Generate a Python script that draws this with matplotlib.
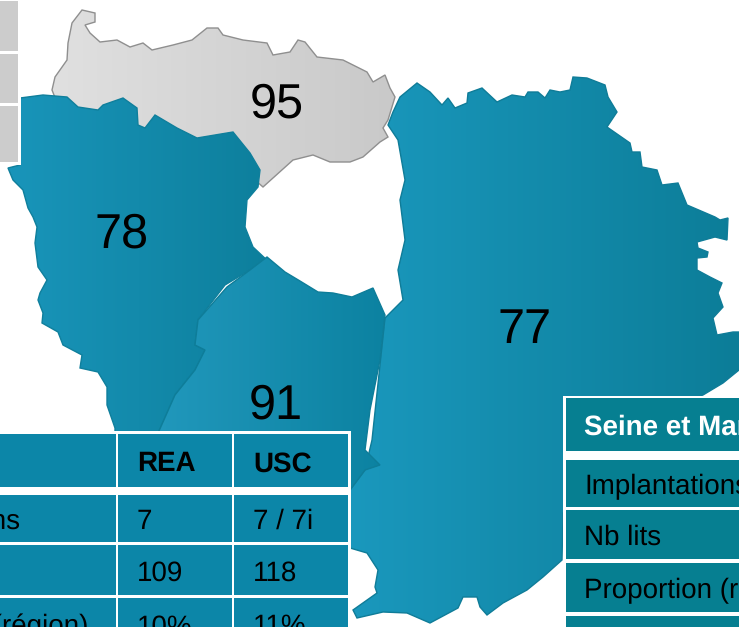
import numpy as np
import matplotlib
matplotlib.use('Agg')
import matplotlib.pyplot as plt
from matplotlib.colors import LinearSegmentedColormap
from matplotlib.patches import Polygon, Rectangle

plt.rcParams['font.family'] = ['Liberation Sans', 'DejaVu Sans']
plt.rcParams['text.hinting'] = 'no_hinting'

# contours des departements (x, y en pixels)
dep95 = [(52,90),(55,77),(67,60),(68,43),(72,23),(82,10),(95,13),(95,22),(85,25),(90,33),(100,42),(117,40),(130,47),
         (143,43),(152,50),(173,45),(192,40),(207,28),(218,28),(223,35),(243,40),(267,43),(273,55),(290,52),
         (298,40),(305,42),(317,57),(343,60),(367,72),(373,82),(385,75),(390,88),(395,97),(388,120),(383,128),
         (388,137),(380,142),(363,157),(350,162),(330,162),(313,155),(293,160),(263,187),(255,180),(240,160),
         (200,150),(150,140),(100,125),(60,110)]
dep78 = [(20,98),(43,95),(67,97),(78,107),(98,110),(103,105),(123,98),(137,108),(138,125),(145,128),(155,115),
         (177,128),(197,138),(233,132),(250,153),(260,170),(258,187),(247,200),(245,227),(253,247),(270,263),
         (250,270),(225,285),(198,320),(195,345),(205,350),(195,370),(175,395),(155,440),(115,440),(115,428),
         (107,405),(107,387),(98,372),(80,368),(82,355),(63,345),(58,332),(42,323),(43,313),(38,300),(40,293),
         (47,280),(38,267),(35,243),(37,227),(33,217),(28,208),(23,190),(13,180),(8,168),(20,165)]
dep91 = [(227,287),(250,270),(267,257),(285,272),(300,281),(318,292),(333,293),(352,297),(373,288),(385,315),
         (380,360),(370,410),(365,450),(380,465),(365,470),(350,490),(200,490),(155,440),(175,395),(195,370),
         (205,350),(195,345),(198,320)]
dep77 = [(388,125),(393,112),(400,97),(417,83),(430,92),(442,105),(448,98),(455,108),(467,103),(468,93),(482,88),
         (497,102),(512,95),(525,97),(528,92),(538,92),(545,98),(550,90),(560,92),(570,90),(573,77),(587,78),
         (605,85),(608,97),(617,112),(607,127),(630,143),(632,152),(640,152),(642,167),(657,170),(662,185),
         (678,183),(687,205),(715,217),(720,220),(728,218),(727,240),(715,237),(697,242),(698,248),(708,252),
         (707,257),(697,258),(697,270),(710,277),(722,283),(718,293),(723,307),(713,318),(717,335),(733,332),
         (739,332),(739,370),(723,383),(703,395),(600,430),(600,500),(563,513),(562,560),(543,577),(527,590),
         (503,603),(487,615),(480,607),(477,597),(463,597),(458,608),(430,623),(407,613),(383,612),(357,618),
         (353,610),(377,593),(375,587),(378,570),(367,553),(350,548),(350,490),(365,470),(372,440),(385,318),
         (403,300),(398,270),(405,240),(400,200),(405,180),(398,140)]

labels_dep = ['95', '78', '91', '77']
labels_xy = [(277,101), (122,231), (276,402), (525,326)]

# tableau gauche (91)
left_head = ['', 'REA', 'USC']
left_rows = [['Implantations', '7', '7 / 7i'],
             ['Nb lits', '109', '118'],
             ['Proportion (région)', '10%', '11%']]
# tableau droit (77)
right_head = 'Seine et Marne'
right_rows = ['Implantations', 'Nb lits', 'Proportion (région)', '']

fig = plt.figure(figsize=(7.39, 6.27), dpi=100)
ax = fig.add_axes([0, 0, 1, 1])
ax.set_xlim(0, 739)
ax.set_ylim(627, 0)
ax.axis('off')


def draw_dep(points, c_left, c_right, edge, lw=1.0):
    cmap = LinearSegmentedColormap.from_list('d', [c_left, c_right])
    pts = np.array(points)
    x0, x1 = pts[:, 0].min(), pts[:, 0].max()
    y0, y1 = pts[:, 1].min(), pts[:, 1].max()
    grad = np.linspace(0, 1, 256).reshape(1, -1)
    im = ax.imshow(grad, cmap=cmap, extent=(x0, x1, y1, y0), aspect='auto', zorder=2)
    poly = Polygon(pts, closed=True, fc='none', ec=edge, lw=lw, zorder=2)
    ax.add_patch(poly)
    im.set_clip_path(poly)


draw_dep(dep95, '#e0e0e0', '#c9c9c9', '#8f8f8f')
draw_dep(dep78, '#1995ba', '#0d7f9c', '#0f7f9c')
draw_dep(dep77, '#1a98bd', '#0c7d98', '#0f7c98')
draw_dep(dep91, '#2198bc', '#0c82a1', '#0e7d99')
ax.set_xlim(0, 739)
ax.set_ylim(627, 0)

for s, (x, y) in zip(labels_dep, labels_xy):
    ax.text(x, y + 4, s, fontsize=35, color='black', ha='center', va='center', zorder=4)


def cell(x0, y0, x1, y1, color):
    ax.add_patch(Rectangle((x0, y0), x1 - x0, y1 - y0, fc=color, ec='none', zorder=6))


# cases grises en haut a gauche
ax.add_patch(Rectangle((0, 0), 21, 165, fc='white', ec='none', zorder=5))
for y0, y1 in [(1, 51), (54, 103), (106, 162)]:
    cell(0, y0, 18, y1, '#cccccc')

# tableau gauche
blue = '#0c86a8'
ax.add_patch(Rectangle((0, 431), 351, 196, fc='white', ec='none', zorder=5))
col_x = [(0, 116), (118, 232), (234, 348)]
row_y = [(434, 487), (495, 542), (545, 595), (598, 640)]
for (y0, y1) in row_y:
    for (x0, x1) in col_x:
        cell(x0, y0, x1, y1, blue)
for j, s in enumerate(left_head):
    ax.text(col_x[j][0] + 19, 464, s, fontsize=20, fontweight='bold', va='center', color='black', zorder=7)
ends = [21, None, 88]
for i, row in enumerate(left_rows):
    yc = (row_y[i + 1][0] + row_y[i + 1][1]) / 2 + 3
    if i == 2:
        yc = 627
    if ends[i] is not None:
        ax.text(ends[i], yc, row[0], fontsize=20, ha='right', va='center', color='black', zorder=7, clip_on=True)
    ax.text(col_x[1][0] + 19, yc, row[1], fontsize=20, va='center', color='black', zorder=7)
    ax.text(col_x[2][0] + 19, yc, row[2], fontsize=20, va='center', color='black', zorder=7)

# tableau droit
teal = '#067f91'
ax.add_patch(Rectangle((563, 396), 180, 235, fc='white', ec='none', zorder=5))
r_y = [(398, 451), (460, 507), (510, 559), (563, 612), (616, 640)]
for y0, y1 in r_y:
    cell(566, y0, 745, y1, teal)
ax.text(584, 427, right_head, fontsize=20, fontweight='bold', color='white', va='center', zorder=7)
for (y0, y1), s in zip(r_y[1:], right_rows):
    ax.text(584, (y0 + y1) / 2 + 3, s, fontsize=20, color='black', va='center', zorder=7)

fig.savefig('out.png', dpi=100)
